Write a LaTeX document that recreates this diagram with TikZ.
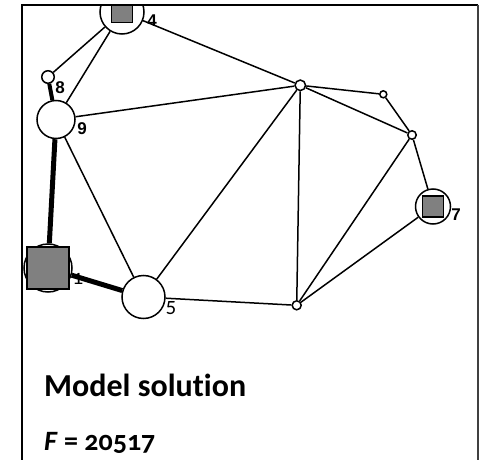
\documentclass[tikz,border=0pt]{standalone}
\usepackage{fontspec}
\newfontfamily\titlefont{Carlito}[Numbers=OldStyle,Ligatures=NoCommon]
\newfontfamily\labelfont{Liberation Sans}
\begin{document}
\begin{tikzpicture}[x=1pt,y=-1pt,
  vnode/.style={circle,draw,fill=white,inner sep=0pt,line width=1.5pt},
  sqnode/.style={rectangle,draw,fill=gray,inner sep=0pt,line width=1.3pt},
  thin edge/.style={line width=1.5pt},
  thick edge/.style={line width=5pt},
  lab/.style={font=\labelfont\bfseries\fontsize{17}{19}\selectfont,inner sep=0pt},
  lab2/.style={font=\titlefont\fontsize{21}{23}\selectfont,inner sep=0pt}
]
\useasboundingbox (0,0) rectangle (479,460);
\begin{scope}
\clip (22,5) rectangle (478,460);
% vertices
\node[vnode,minimum size=44pt] (n4) at (122,12) {};
\node[vnode,minimum size=12.5pt] (n8) at (48,77) {};
\node[vnode,minimum size=38pt] (n9) at (56,119.5) {};
\node[vnode,minimum size=48pt] (n1) at (48,268) {};
\node[vnode,minimum size=43pt] (n5) at (143.5,297) {};
\node[vnode,minimum size=10.5pt] (na) at (300.3,85.3) {};
\node[vnode,minimum size=7pt] (nb) at (383.3,94.3) {};
\node[vnode,minimum size=8.5pt] (nc) at (412,135) {};
\node[vnode,minimum size=35pt] (n7) at (433,206.5) {};
\node[vnode,minimum size=9pt] (nd) at (296.7,305.3) {};
% labels
\node[lab] (l4) at (152,21) {4};
\node[lab] (l8) at (60,88) {8};
\node[lab] (l9) at (82,129) {9};
\node[lab] (l7) at (456,215) {7};
\node[lab2] (l5) at (171,308) {5};
\node[lab2] (l1) at (78,279) {1};
% edges
\draw[thin edge] (n4) -- (n8);
\draw[thin edge] (n4) -- (n9);
\draw[thin edge] (n4) -- (na);
\draw[thin edge] (n9) -- (na);
\draw[thin edge] (n9) -- (n5);
\draw[thin edge] (n5) -- (na);
\draw[thin edge] (n5) -- (nd);
\draw[thin edge] (na) -- (nd);
\draw[thin edge] (na) -- (nb);
\draw[thin edge] (na) -- (nc);
\draw[thin edge] (nb) -- (nc);
\draw[thin edge] (nc) -- (n7);
\draw[thin edge] (nc) -- (nd);
\draw[thin edge] (n7) -- (nd);
\draw[line width=4pt] (n8) -- (n9);
\draw[thick edge] (n9) -- (n1);
\draw[thick edge] (n5) -- (n1);
% facility squares
\node[sqnode,minimum size=21.5pt] (s4) at (n4.center) {};
\node[sqnode,minimum size=42pt] (s1) at (n1.center) {};
\node[sqnode,minimum size=21pt] (s7) at (n7.center) {};
\end{scope}
% frame
\draw[line width=2pt] (22,460) -- (22,5) -- (478,5);
\draw[line width=1.5pt,black!75] (478,5) -- (478,460);
% caption
\node[font=\titlefont\bfseries\fontsize{32}{37}\selectfont,anchor=base west,inner sep=0pt] (t1) at (44,396) {Model solution};
\node[font=\titlefont\bfseries\fontsize{28}{33}\selectfont,anchor=base west,inner sep=0pt] (t2) at (44,450) {\textit{F} = 20517};
\end{tikzpicture}
\end{document}
